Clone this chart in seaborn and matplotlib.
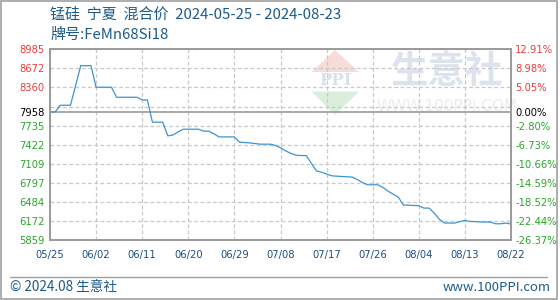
import matplotlib
matplotlib.use("Agg")
import matplotlib.pyplot as plt
from matplotlib.patches import Polygon, Rectangle
from matplotlib.lines import Line2D
import seaborn as sns
import pandas as pd

# ---- data ----
prices = [7958, 7958, 8068, 8068, 8068, 8390, 8717, 8717, 8717, 8363,
          8363, 8363, 8363, 8199, 8199, 8199, 8199, 8199, 8155, 8155,
          7790, 7790, 7790, 7566, 7580, 7630, 7675, 7675, 7675, 7675,
          7643, 7643, 7600, 7549, 7549, 7549, 7549, 7463, 7457, 7451,
          7440, 7430, 7430, 7430, 7410, 7370, 7320, 7280, 7250, 7243,
          7243, 7120, 6993, 6970, 6940, 6911, 6905, 6900, 6895, 6890,
          6850, 6800, 6764, 6764, 6764, 6720, 6660, 6610, 6562, 6431,
          6430, 6425, 6420, 6382, 6382, 6300, 6200, 6137, 6137, 6137,
          6160, 6180, 6163, 6160, 6155, 6153, 6153, 6125, 6125, 6137,
          6120]
x_tick_labels = ["05/25", "06/02", "06/11", "06/20", "06/29", "07/08",
                 "07/17", "07/26", "08/04", "08/13", "08/22"]
base_value = 7958
y_top = 8985
y_bottom = 5859
left_labels = ["8985", "8672", "8360", "7958", "7735", "7422", "7109",
               "6797", "6484", "6172", "5859"]
right_labels = ["12.91%", "8.98%", "5.05%", "0.00%", "-2.80%", "-6.73%",
                "-10.66%", "-14.59%", "-18.52%", "-22.44%", "-26.37%"]
title_line1 = "锰硅  宁夏  混合价  2024-05-25 - 2024-08-23"
title_line2 = "牌号:FeMn68Si18"
footer_left = "© 2024.08 生意社"
footer_right = "www.100PPI.com"

df = pd.DataFrame({"idx": list(range(len(prices))), "price": prices})

# ---- style ----
sns.set_theme(style="white")
plt.rcParams["font.family"] = ["DejaVu Sans", "Noto Sans CJK SC"]
CJK = ["Noto Sans CJK SC", "DejaVu Sans"]

W, H = 560, 300
fig = plt.figure(figsize=(5.6, 3.0), dpi=100)
fig.patch.set_facecolor("white")

L, R, T, B = 50, 511, 49.3, 240
ax = fig.add_axes([L / W, 1 - B / H, (R - L) / W, (B - T) / H])
ax.set_facecolor("white")

def fx(px):
    return px / W

def fy(py):
    return 1 - py / H

# watermark (drawn behind)
wm_kw = dict(transform=fig.transFigure, zorder=0, clip_on=False)
ax.add_patch(Polygon([(fx(335), fy(50)), (fx(311.5), fy(72)), (fx(359), fy(72))],
                     closed=True, facecolor="#f7dcd9", edgecolor="none", **wm_kw))
ax.add_patch(Polygon([(fx(311.5), fy(91.5)), (fx(359), fy(91.5)), (fx(335), fy(115))],
                     closed=True, facecolor="#daeedb", edgecolor="none", **wm_kw))
ax.text(fx(335), fy(80.5), "PPI", fontsize=12, fontweight="bold", color="#dbe1ec",
        ha="center", va="center", family="DejaVu Serif", zorder=0, transform=fig.transFigure)
ax.text(fx(447), fy(72), "生意社", fontsize=27, fontweight="bold", color="#dde3ee",
        ha="center", va="center", family=CJK, zorder=0, transform=fig.transFigure)
ax.text(fx(447), fy(106.5), "WWW.100PPI.COM", fontsize=11, color="#ececec",
        ha="center", va="center", zorder=0, transform=fig.transFigure)

sns.lineplot(data=df, x="idx", y="price", ax=ax, color="#3a94d4",
             linewidth=0.9, zorder=3)

ax.set_xlim(0, len(prices) - 1)
ax.set_ylim(y_bottom, y_top)
step = (y_top - y_bottom) / 10
grid_vals = [y_top - k * step for k in range(11)]
tick_vals = [float(v) for v in grid_vals]
tick_vals[3] = base_value

for gv in grid_vals:
    ax.axhline(gv, color="#c8c8c8", linestyle=(0, (3, 2)), linewidth=0.9, zorder=1)
xticks = [i * 9 for i in range(len(x_tick_labels))]
for xv in xticks:
    ax.axvline(xv, color="#c8c8c8", linestyle=(0, (3, 2)), linewidth=0.9, zorder=1)
ax.axhline(base_value, color="#9a9a9a", linewidth=1.2, zorder=2)

ax.set_xticks(xticks)
ax.set_xticklabels(x_tick_labels, fontsize=7.2, color="#1b4f86")
ax.set_yticks(tick_vals)
ax.set_yticklabels(left_labels, fontsize=7.2)
ax.set_xlabel("")
ax.set_ylabel("")
ax.tick_params(axis="both", length=0)
ax.tick_params(axis="y", pad=22)
ax.tick_params(axis="x", pad=7)
for lab in ax.get_yticklabels():
    lab.set_horizontalalignment("left")

def colour_for(i):
    if i < 3:
        return "#ee3b3b"
    if i == 3:
        return "#000000"
    return "#2aa52a"

for i, lab in enumerate(ax.get_yticklabels()):
    lab.set_color(colour_for(i))

ax2 = ax.twinx()
ax2.set_ylim(y_bottom, y_top)
ax2.set_yticks(tick_vals)
ax2.set_yticklabels(right_labels, fontsize=7.2)
ax2.tick_params(axis="y", length=0, pad=3)
for i, lab in enumerate(ax2.get_yticklabels()):
    lab.set_color(colour_for(i))

for a in (ax, ax2):
    for s in a.spines.values():
        s.set_color("#9a9a9a")
        s.set_linewidth(1.2)

# titles
fig.text(fx(50), fy(15), title_line1, fontsize=10.8, color="#1d5a8c",
         ha="left", va="center", family=CJK)
fig.text(fx(50), fy(35), title_line2, fontsize=10.8, color="#1d5a8c",
         ha="left", va="center", family=CJK)

# footer
fig.add_artist(Line2D([fx(10), fx(547)], [fy(276.5), fy(276.5)],
                      transform=fig.transFigure, color="#a0a0a0", linewidth=1))
fig.text(fx(10), fy(287.5), footer_left, fontsize=9.8, color="#1d5a8c",
         ha="left", va="center", family=CJK)
fig.text(fx(551), fy(287.5), footer_right, fontsize=9.4, color="#1d5a8c",
         ha="right", va="center", family=CJK)

# outer frame
fig.add_artist(Rectangle((fx(0.5), fy(298.5)), fx(556.5), (298.0) / H,
                         transform=fig.transFigure, fill=False,
                         edgecolor="#a0a0a0", linewidth=1.2))

fig.savefig("out.png", dpi=100)
